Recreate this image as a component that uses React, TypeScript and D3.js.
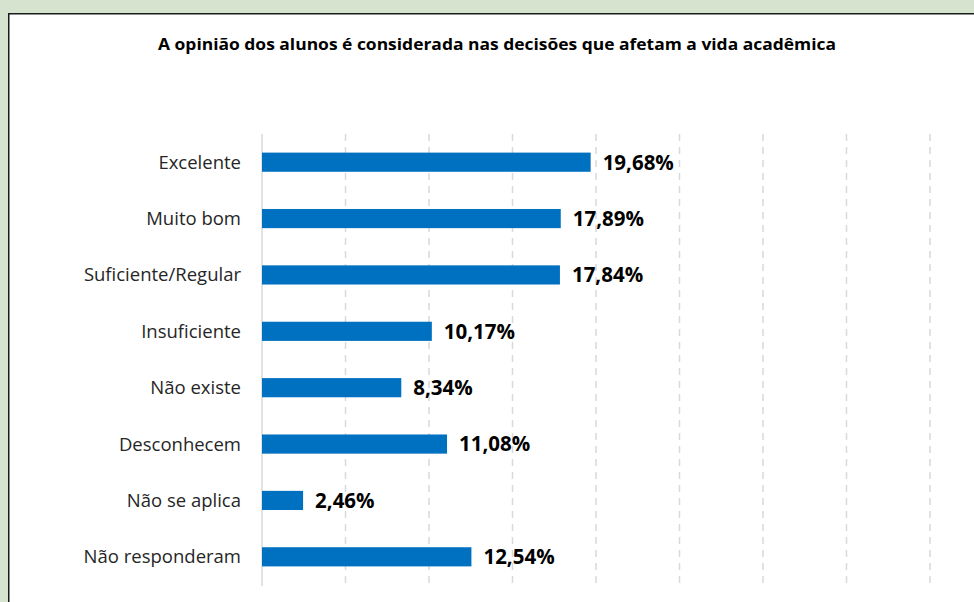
import React from "react";
import * as d3 from "d3";

const title = "A opinião dos alunos é considerada nas decisões que afetam a vida acadêmica";
const categories = [
  "Excelente",
  "Muito bom",
  "Suficiente/Regular",
  "Insuficiente",
  "Não existe",
  "Desconhecem",
  "Não se aplica",
  "Não responderam",
];
const values = [19.68, 17.89, 17.84, 10.17, 8.34, 11.08, 2.46, 12.54];
const xTicks = [0, 5, 10, 15, 20, 25, 30, 35, 40];

const W = 974;
const H = 602;

export default function App() {
  const x = d3.scaleLinear().domain([0, 40]).range([262, 930]);
  const y = d3.scaleBand<string>().domain(categories).range([134, 585]).paddingInner(0.66).paddingOuter(0.33);
  const fmt = (v: number) => v.toFixed(2).replace(".", ",") + "%";
  const font = "'Open Sans', sans-serif";
  return (
    <svg
      width={W}
      height={H}
      style={{ position: "absolute", left: 0, top: 0, display: "block" }}
      fontFamily={font}
    >
      <rect x={0} y={0} width={W} height={H} fill="#d6e4cf" />
      <rect x={8.75} y={13.75} width={W + 20} height={H + 20} fill="#ffffff" stroke="#1a1a1a" strokeWidth={1.5} />
      <text x={497} y={50} textAnchor="middle" fontSize={16.5} fontWeight="bold" fill="#000" textLength={678} lengthAdjust="spacingAndGlyphs">
        {title}
      </text>
      {xTicks.map((t) => (
        <line
          key={t}
          x1={x(t)}
          x2={x(t)}
          y1={134}
          y2={586}
          stroke="#d9d9d9"
          strokeWidth={1.5}
          strokeDasharray={t === 0 ? undefined : "7,6"}
        />
      ))}
      {categories.map((c, i) => {
        const yc = (y(c) as number) + y.bandwidth() / 2;
        return (
          <g key={c}>
            <rect x={x(0)} y={y(c)} width={x(values[i]) - x(0)} height={y.bandwidth()} fill="#0070c0" />
            <text x={241} y={yc} dy="0.35em" textAnchor="end" fontSize={18.5} fill="#262626">
              {c}
            </text>
            <text x={x(values[i]) + 12} y={yc} dy="0.36em" fontSize={20.5} fontWeight="bold" fill="#000">
              {fmt(values[i])}
            </text>
          </g>
        );
      })}
    </svg>
  );
}
